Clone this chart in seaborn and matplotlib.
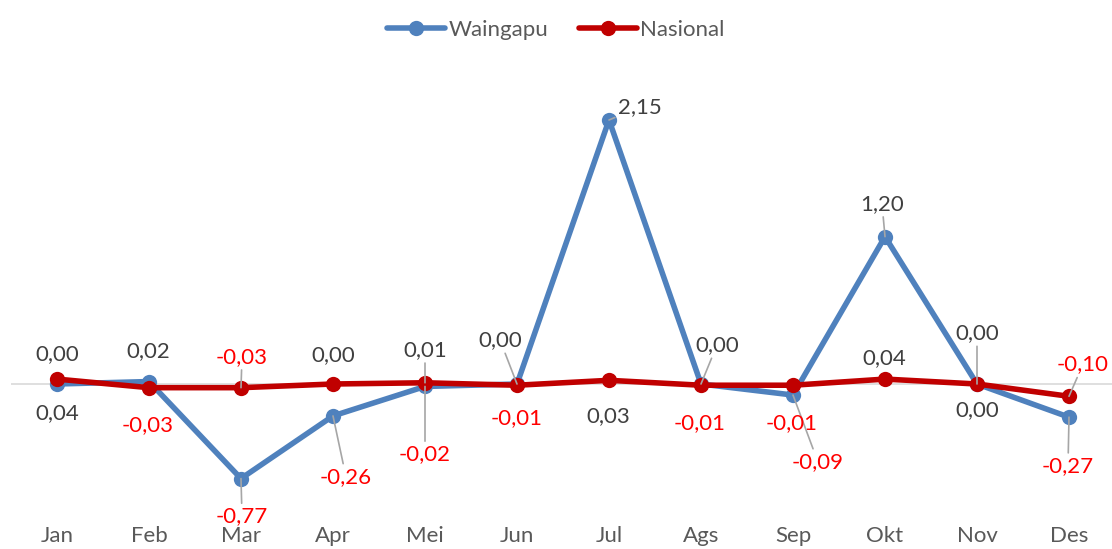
import pandas as pd
import seaborn as sns
import matplotlib.pyplot as plt

# data
bulan = ["Jan", "Feb", "Mar", "Apr", "Mei", "Jun", "Jul", "Ags", "Sep", "Okt", "Nov", "Des"]
waingapu = [0.00, 0.02, -0.77, -0.26, -0.02, 0.00, 2.15, 0.00, -0.09, 1.20, 0.00, -0.27]
nasional = [0.04, -0.03, -0.03, 0.00, 0.01, -0.01, 0.03, -0.01, -0.01, 0.04, 0.00, -0.10]

# posisi label (offset piksel dari titik) dan garis penunjuk
off_w = [(0, 30), (-1, 30), (1, -38), (13, -61), (0, -68), (-17, 44),
         (31, 13), (16, 39), (25, -67), (-3, 33), (0, 51), (-1, -49)]
lead_w = [0, 0, 1, 1, 1, 1, 1, 1, 1, 1, 1, 1]
off_n = [(0, -34), (-1, -37), (1, 31), (0, 29), (0, 33), (0, -33),
         (-1, -36), (-1, -38), (-1, -38), (-1, 21), (0, -26), (14, 32)]
lead_n = [0, 0, 1, 0, 1, 0, 0, 0, 0, 0, 0, 1]

BLUE = "#4F81BD"
RED = "#C00000"

df = pd.DataFrame({
    "idx": list(range(12)) * 2,
    "nilai": waingapu + nasional,
    "seri": ["Waingapu"] * 12 + ["Nasional"] * 12,
})

sns.set_style("white")
plt.rcParams["font.family"] = ["Lato", "DejaVu Sans"]

fig = plt.figure(figsize=(11.12, 5.49), dpi=100)
ax = fig.add_axes([11 / 1112, 42.2 / 549, 1104 / 1112, 429.8 / 549])

sns.lineplot(data=df, x="idx", y="nilai", hue="seri", sort=False,
             palette={"Waingapu": BLUE, "Nasional": RED},
             marker="o", markersize=11, markeredgewidth=0,
             linewidth=4, legend=False, ax=ax)
ax.axhline(0, color="#d9d9d9", lw=1.2, zorder=0)

ax.set_xlim(-0.5, 11.5)
ax.set_ylim(-1.0, 2.5)
ax.set_xticks(range(12))
ax.set_xticklabels(bulan, fontsize=16, color="#595959")
ax.tick_params(axis="x", length=0, pad=14)
ax.set_yticks([])
ax.set_xlabel("")
ax.set_ylabel("")
for s in ax.spines.values():
    s.set_visible(False)


def fmt(v):
    return f"{v:.2f}".replace(".", ",")


def label(vals, offs, leads):
    for i, v in enumerate(vals):
        c = "#FF0000" if v < 0 else "#404040"
        ap = dict(arrowstyle="-", color="#a6a6a6", lw=1.2, shrinkA=0, shrinkB=0) if leads[i] else None
        ax.annotate(fmt(v), xy=(i, v), xytext=offs[i], textcoords="offset pixels",
                    ha="center", va="center", fontsize=16, color=c,
                    arrowprops=ap, zorder=5)


label(waingapu, off_w, lead_w)
label(nasional, off_n, lead_n)

handles = ax.get_lines()[:2]
fig.legend(handles, ["Waingapu", "Nasional"], loc="upper center",
           bbox_to_anchor=(0.5, 1.0), ncol=2, frameon=False, fontsize=16,
           handlelength=2.6, handletextpad=0.15, columnspacing=1.4,
           labelcolor="#595959")

fig.savefig("out.png", dpi=100)
